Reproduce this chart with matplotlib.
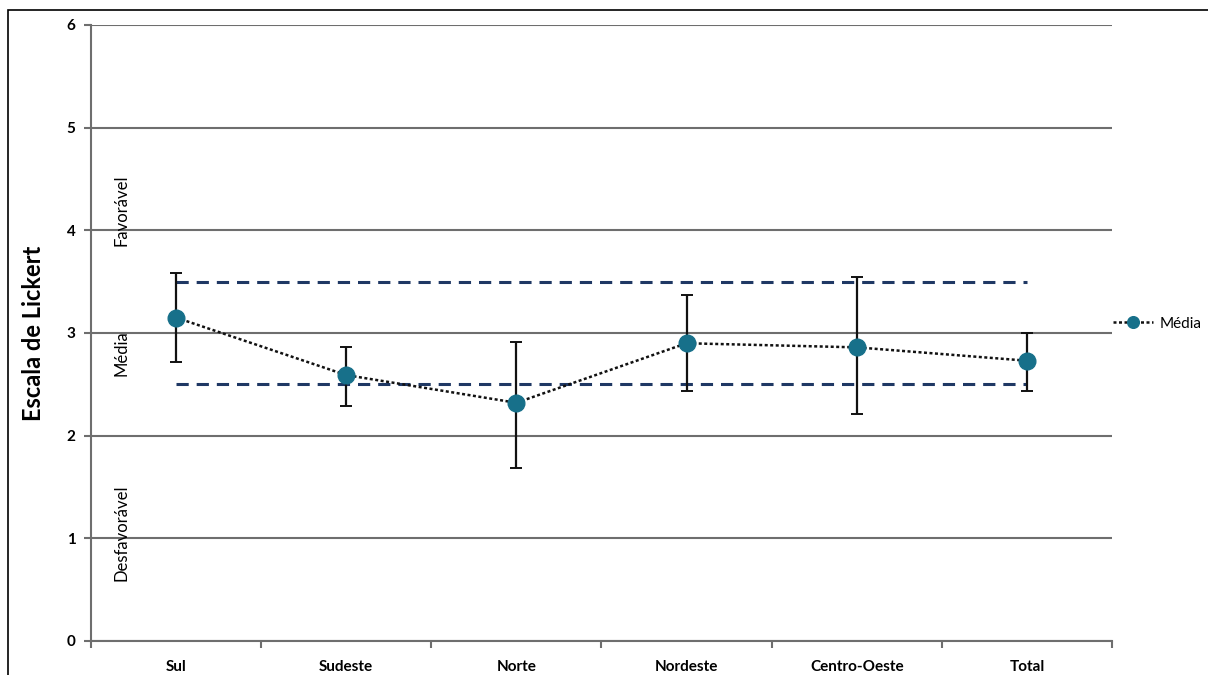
import numpy as np
import matplotlib
matplotlib.use('Agg')
import matplotlib.pyplot as plt
from matplotlib.patches import Rectangle

plt.rcParams['font.family'] = ['Lato', 'DejaVu Sans']

# data
regioes = ['Sul', 'Sudeste', 'Norte', 'Nordeste', 'Centro-Oeste', 'Total']
media = [3.15, 2.59, 2.32, 2.90, 2.86, 2.73]
sup = [3.58, 2.86, 2.91, 3.37, 3.55, 3.00]
inf = [2.72, 2.29, 1.68, 2.43, 2.21, 2.43]
limite_sup = 3.5
limite_inf = 2.5
faixas = ['Favorável', 'Média', 'Desfavorável']
faixas_y = [4.2, 2.8, 1.05]

x = np.arange(len(regioes)) + 0.5
media = np.array(media)
err = [media - np.array(inf), np.array(sup) - media]

fig = plt.figure(figsize=(12.08, 6.75), dpi=100)
ax = fig.add_axes([0.0753, 0.0504, 0.8452, 0.9126])

# horizontal grid
for v in range(0, 7):
    ax.axhline(v, color='#6e6e6e', lw=1.5, zorder=1)

# reference band
ax.plot([x[0], x[-1]], [limite_sup, limite_sup], color='#1f3864', lw=2.2,
        dashes=(4, 2.6), zorder=2)
ax.plot([x[0], x[-1]], [limite_inf, limite_inf], color='#1f3864', lw=2.2,
        dashes=(4, 2.6), zorder=2)

ax.errorbar(x, media, yerr=err, fmt='none', ecolor='#111111', elinewidth=1.6,
            capsize=4, capthick=1.4, zorder=3)
ax.plot(x, media, color='#111111', ls=(0, (1.2, 1)), lw=1.8, marker='o',
        markersize=12, markerfacecolor='#17708a', markeredgecolor='#17708a',
        label='Média', zorder=4)

for t, yy in zip(faixas, faixas_y):
    ax.text(0.18, yy, t, rotation=90, ha='center', va='center', fontsize=12,
            color='black')

ax.set_xlim(0, 6)
ax.set_ylim(0, 6)
ax.set_yticks(range(0, 7))
ax.set_yticklabels([str(v) for v in range(0, 7)], fontsize=11, fontweight='bold')
ax.set_xticks(np.arange(0, 7), minor=False)
ax.set_xticklabels([])
ax.set_xticks(x, minor=True)
ax.set_xticklabels(regioes, minor=True, fontsize=11, fontweight='bold')
ax.tick_params(axis='x', which='minor', length=0, pad=14)
ax.tick_params(axis='x', which='major', length=5, width=1.5, color='#6e6e6e')
ax.tick_params(axis='y', length=5, width=1.5, color='#6e6e6e', pad=6)

for s in ['top', 'right']:
    ax.spines[s].set_visible(False)
ax.spines['left'].set_color('#6e6e6e')
ax.spines['left'].set_linewidth(1.5)
ax.spines['bottom'].set_color('#6e6e6e')
ax.spines['bottom'].set_linewidth(1.5)

ax.set_ylabel('Escala de Lickert', fontsize=17, fontweight='bold')
ax.yaxis.set_label_coords(-0.045, 0.5)

leg = ax.legend(loc='center left', bbox_to_anchor=(1.0, 0.515),
                frameon=False, fontsize=11, handlelength=2.6, markerscale=0.7,
                handletextpad=0.45, borderaxespad=0.1, borderpad=0)

# outer frame
fig.patches.append(Rectangle((8 / 1208, -0.1), 1.5, 1 - 10 / 675 + 0.1,
                             transform=fig.transFigure, fill=False,
                             edgecolor='black', lw=1.2))

fig.savefig('out.png', dpi=100)
